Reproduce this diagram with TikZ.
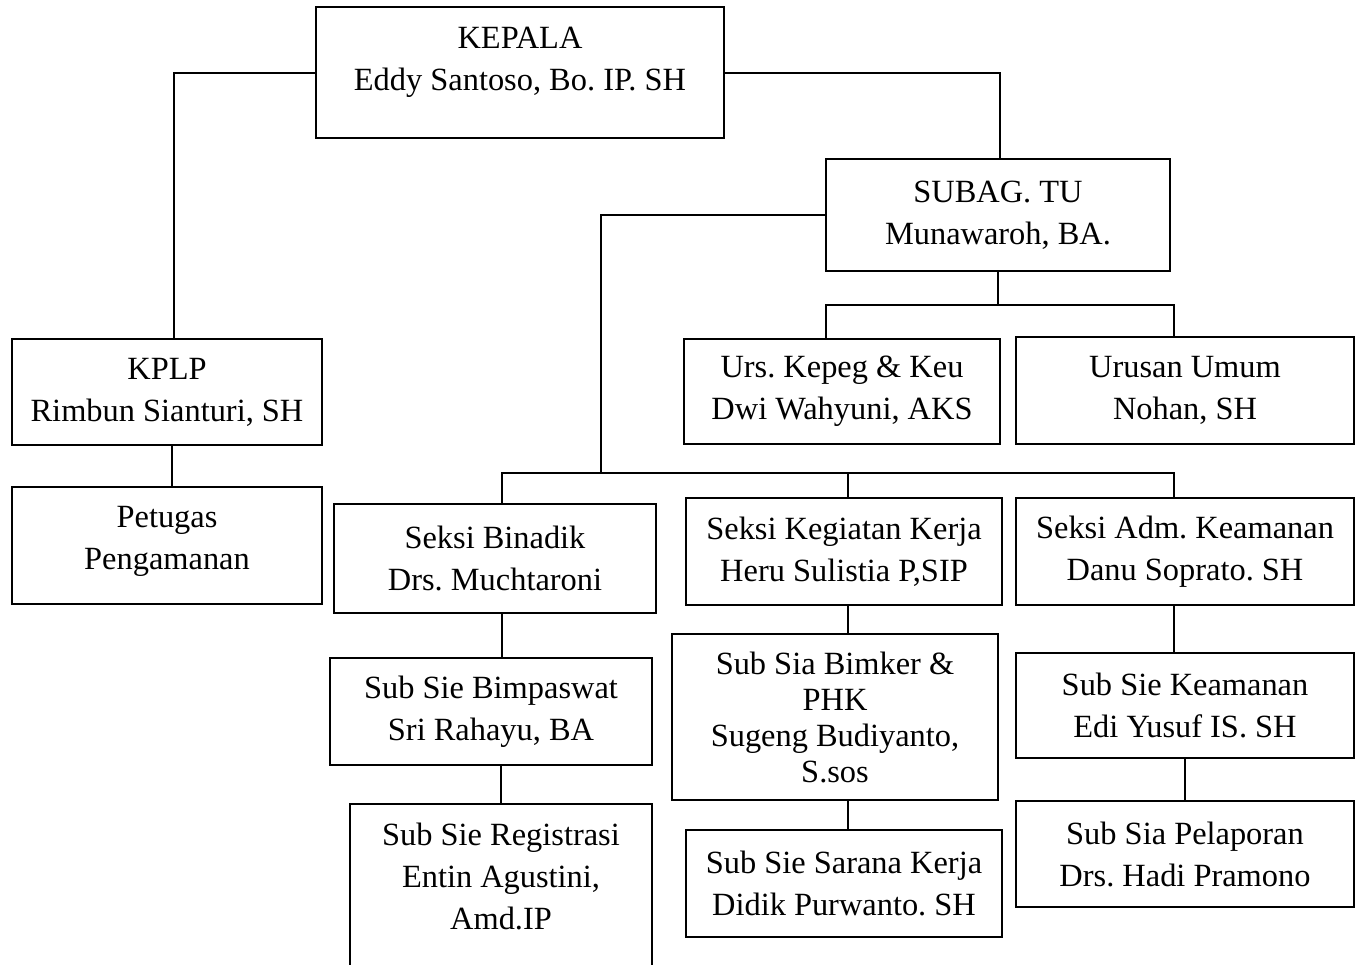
\documentclass[tikz,border=0pt]{standalone}
\usepackage{fontspec}
\setmainfont{Liberation Serif}
\frenchspacing
\usetikzlibrary{positioning}

\begin{document}
\begin{tikzpicture}[
    x=0.5pt, y=-0.5pt,
    unitBox/.style={rectangle, draw=black, line width=1pt, fill=white, font=\fontsize{16.2}{21}\selectfont, align=center, inner sep=0pt, anchor=north west},
    orgLine/.style={line width=1pt, draw=black}
]
    \useasboundingbox (0,0) rectangle (1363,964);

    % Top level
    \node[unitBox, minimum width=204pt, minimum height=65.5pt] (kepala) at (315,6) {KEPALA\\Eddy Santoso, Bo. IP. SH\\[-7pt]\mbox{}};
    \node[unitBox, minimum width=172pt, minimum height=56pt] (subag) at (825,158) {SUBAG. TU\\Munawaroh, BA.};

    % KPLP branch
    \node[unitBox, minimum width=155pt, minimum height=53pt] (kplp) at (11,338) {KPLP\\Rimbun Sianturi, SH};
    \node[unitBox, minimum width=155pt, minimum height=58.5pt] (petugas) at (11,486) {Petugas\\Pengamanan\\[-13pt]\mbox{}};

    % Urusan under SUBAG. TU
    \node[unitBox, minimum width=158pt, minimum height=52.5pt] (urs) at (683,338) {Urs. Kepeg \& Keu\\Dwi Wahyuni, AKS};
    \node[unitBox, minimum width=169pt, minimum height=53.5pt] (umum) at (1015,336) {Urusan Umum\\Nohan, SH};

    % Seksi
    \node[unitBox, minimum width=161pt, minimum height=54.5pt] (binadik) at (333,503) {Seksi Binadik\\Drs. Muchtaroni};
    \node[unitBox, minimum width=158pt, minimum height=53.5pt] (kegiatan) at (685,497) {Seksi Kegiatan Kerja\\Heru Sulistia P,SIP};
    \node[unitBox, minimum width=169pt, minimum height=53.5pt] (adm) at (1015,497) {Seksi Adm. Keamanan\\Danu Soprato. SH};

    % Sub Sie
    \node[unitBox, minimum width=161pt, minimum height=53.5pt] (bimpaswat) at (329,657) {Sub Sie Bimpaswat\\Sri Rahayu, BA};
    \node[unitBox, minimum width=151pt, minimum height=100pt] (registrasi) at (349,803) {Sub Sie Registrasi\\Entin Agustini,\\Amd.IP\\[6.5pt]\mbox{}};
    \node[unitBox, minimum width=163pt, minimum height=83pt] (bimker) at (671,633) {Sub Sia Bimker \&\\[-3pt]PHK\\[-3pt]Sugeng Budiyanto,\\[-3pt]S.sos};
    \node[unitBox, minimum width=158pt, minimum height=53.5pt] (sarana) at (685,829) {Sub Sie Sarana Kerja\\Didik Purwanto. SH};
    \node[unitBox, minimum width=169pt, minimum height=52.5pt] (keamanan) at (1015,652) {Sub Sie Keamanan\\Edi Yusuf IS. SH};
    \node[unitBox, minimum width=169pt, minimum height=53pt] (pelaporan) at (1015,800) {Sub Sia Pelaporan\\Drs. Hadi Pramono};

    % Bus points
    \coordinate (sekBus) at (601,473);
    \coordinate (tuBus) at (subag.south |- 0,305);

    % Connectors
    \draw[orgLine] (kepala.west) -| ([xshift=3.5pt]kplp.north);
    \draw[orgLine] (kepala.east) -| ([xshift=1pt]subag.north);
    \draw[orgLine] ([xshift=2.5pt]kplp.south) -- ([xshift=2.5pt]petugas.north);

    \draw[orgLine] (subag.south) -- (tuBus);
    \draw[orgLine] ([xshift=-8pt]urs.north) |- (tuBus) -| ([xshift=-5.5pt]umum.north);

    \draw[orgLine] (subag.west) -| (sekBus);
    \draw[orgLine] ([xshift=3.5pt]binadik.north) |- (sekBus) -| ([xshift=-5.5pt]adm.north);
    \draw[orgLine] ([xshift=2pt]kegiatan.north) -- ([xshift=2pt]kegiatan.north |- sekBus);

    \draw[orgLine] ([xshift=3.5pt]binadik.south) -- ([xshift=3.5pt]binadik.south |- bimpaswat.north);
    \draw[orgLine] (registrasi.north) -- (registrasi.north |- bimpaswat.south);
    \draw[orgLine] ([xshift=2pt]kegiatan.south) -- ([xshift=2pt]kegiatan.south |- bimker.north);
    \draw[orgLine] ([xshift=2pt]sarana.north) -- ([xshift=2pt]sarana.north |- bimker.south);
    \draw[orgLine] ([xshift=-5.5pt]adm.south) -- ([xshift=-5.5pt]adm.south |- keamanan.north);
    \draw[orgLine] (keamanan.south) -- (pelaporan.north);
\end{tikzpicture}
\end{document}
